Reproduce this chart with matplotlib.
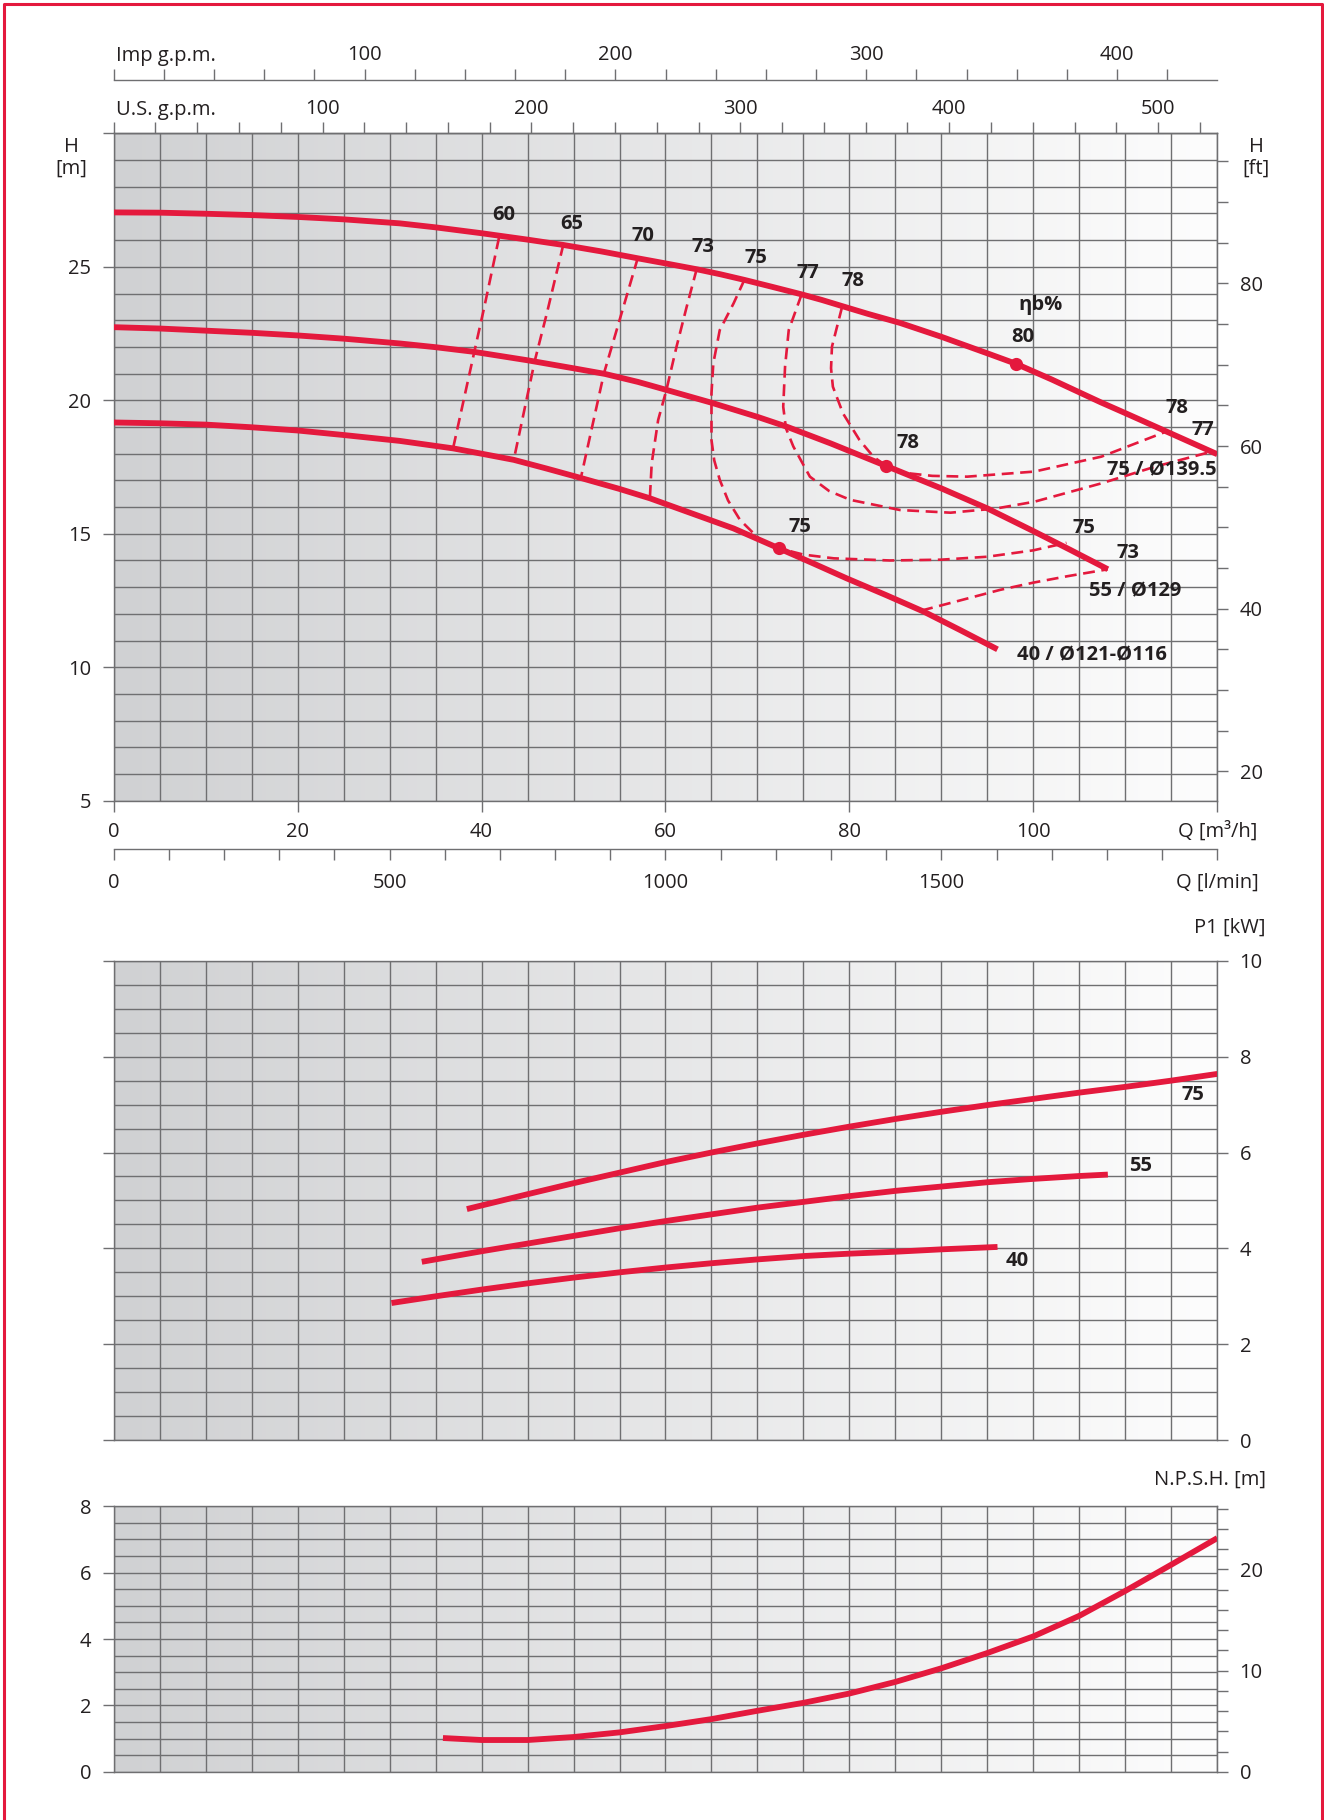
import numpy as np
import matplotlib
matplotlib.use("Agg")
import matplotlib.pyplot as plt
from matplotlib.colors import LinearSegmentedColormap
from matplotlib.lines import Line2D
from matplotlib.ticker import MultipleLocator

plt.rcParams['font.family'] = ['Open Sans', 'DejaVu Sans']

RED = '#e4193d'
GRID = '#6f6f71'
TXT = '#231f20'

# ---------------- data ----------------
# H-Q curves (Q in m3/h, H in m)
q_d139 = [0, 5, 10, 15, 20, 25, 31.1, 35, 40, 45, 48.9, 53, 57, 60, 63.4, 66, 68.6, 71.5, 74.8,
          77, 79.2, 82, 85.5, 90, 95, 98.1, 102, 107.3, 110, 115, 120]
h_d139 = [27.04, 27.03, 26.99, 26.94, 26.87, 26.78, 26.63, 26.48, 26.26, 26.02, 25.82, 25.58, 25.32,
          25.13, 24.91, 24.72, 24.51, 24.26, 23.97, 23.76, 23.53, 23.24, 22.9, 22.38, 21.76, 21.37,
          20.78, 19.93, 19.52, 18.75, 17.98]

q_d129 = [0, 5, 10, 15, 20, 25, 31.1, 35, 39.1, 45, 50, 53.4, 57, 60.1, 65, 70, 73.2, 78, 84.0,
          90, 95.0, 100, 104, 108.1]
h_d129 = [22.74, 22.69, 22.61, 22.53, 22.43, 22.31, 22.13, 21.99, 21.82, 21.5, 21.2, 20.99, 20.69,
          20.39, 19.91, 19.38, 19.01, 18.38, 17.54, 16.7, 15.95, 15.1, 14.4, 13.67]

q_d121 = [0, 5, 10, 15, 20, 25, 31.1, 36.9, 40, 43.5, 47, 50.7, 55, 58.3, 62, 67.4, 72.3, 76,
          79.7, 84, 88.1, 92, 96.1]
h_d121 = [19.17, 19.14, 19.09, 18.99, 18.87, 18.7, 18.48, 18.2, 18.0, 17.77, 17.45, 17.1, 16.68,
          16.33, 15.87, 15.2, 14.46, 13.9, 13.33, 12.7, 12.08, 11.4, 10.67]

# best efficiency points
bep_q = [98.1, 84.0, 72.3]
bep_h = [21.37, 17.54, 14.46]
bep_lbl = ['80', '78', '75']

# iso-efficiency lines
eta60_q = [41.9, 40.3, 39.2, 36.9]
eta60_h = [26.1, 23.5, 21.8, 18.2]
eta65_q = [48.9, 47.1, 45.8, 43.5]
eta65_h = [25.85, 23.26, 21.5, 17.77]
eta70_q = [57.0, 55.0, 53.3, 50.8]
eta70_h = [25.35, 23.0, 21.0, 17.1]
eta73_q = [63.4, 62.3, 61.2, 60.1, 59.2, 58.5, 58.3]
eta73_h = [24.93, 23.5, 22.01, 20.39, 19.26, 17.64, 16.33]
eta73b_q = [87.8, 92.0, 96.4, 100.0, 103.7, 108.1]
eta73b_h = [12.12, 12.5, 12.9, 13.17, 13.41, 13.67]
eta75_q = [68.6, 67.4, 65.9, 65.2, 65.0, 65.0, 65.3, 65.9, 66.8, 68.1, 70.3, 72.3, 75.0, 78.3,
           84.4, 90.0, 95.0, 100.0, 103.6]
eta75_h = [24.53, 23.63, 22.63, 21.39, 20.26, 18.51, 17.75, 17.02, 16.25, 15.52, 14.77, 14.46,
           14.22, 14.08, 14.0, 14.03, 14.14, 14.38, 14.66]
eta77_q = [74.8, 73.4, 73.0, 72.8, 73.1, 73.9, 75.7, 77.8, 80.1, 85.5, 91.0, 96.0, 100.1, 107.4,
           113.2, 119.4]
eta77_h = [23.97, 22.63, 21.26, 19.76, 18.95, 18.27, 17.14, 16.6, 16.27, 15.89, 15.79, 15.95,
           16.2, 16.89, 17.51, 18.08]
eta78_q = [79.2, 78.1, 78.0, 78.2, 79.3, 81.1, 82.6, 84.0, 86.3, 89.0, 92.8, 100.1, 107.4, 114.6]
eta78_h = [23.5, 22.01, 21.2, 20.51, 19.51, 18.51, 17.89, 17.54, 17.27, 17.17, 17.14, 17.33,
           17.89, 18.85]

# power input P1 (kW)
q_p75 = [38.4, 45, 50, 55, 60, 65, 70, 75, 80, 85, 90, 95, 100, 105, 110, 115, 120]
p_p75 = [4.82, 5.13, 5.36, 5.58, 5.80, 6.00, 6.19, 6.37, 6.54, 6.70, 6.85, 6.99, 7.12, 7.25,
         7.37, 7.5, 7.64]
q_p55 = [33.5, 40, 45, 50, 55, 60, 65, 70, 75, 80, 85, 90, 95, 100, 105, 108.1]
p_p55 = [3.72, 3.94, 4.10, 4.26, 4.42, 4.57, 4.71, 4.85, 4.97, 5.09, 5.20, 5.29, 5.38, 5.45,
         5.51, 5.54]
q_p40 = [30.2, 35, 40, 45, 50, 55, 60, 65, 70, 75, 80, 85, 90, 96.1]
p_p40 = [2.86, 3.0, 3.14, 3.27, 3.39, 3.50, 3.60, 3.69, 3.77, 3.84, 3.89, 3.93, 3.98, 4.03]

# NPSH (m)
q_npsh = [35.8, 40, 45, 50, 55, 60, 65, 70, 75, 80, 85, 90, 95, 100, 105, 110, 115, 120]
n_npsh = [1.02, 0.96, 0.96, 1.05, 1.19, 1.38, 1.59, 1.84, 2.08, 2.36, 2.71, 3.12, 3.58, 4.08,
          4.70, 5.45, 6.24, 7.04]

# tick labels
q_ticks = [0, 20, 40, 60, 80, 100, 120]
q_ticklabels = ['0', '20', '40', '60', '80', '100', 'Q [m³/h]']
lmin_ticks = list(range(0, 2001, 100))
lmin_ticklabels = [('Q [l/min]' if v == 2000 else str(v)) if v % 500 == 0 else '' for v in lmin_ticks]
us_ticks = list(range(0, 521, 20))
us_ticklabels = [str(v) if (v % 100 == 0 and v > 0) else '' for v in us_ticks]
imp_ticks = list(range(0, 441, 20))
imp_ticklabels = [str(v) if (v % 100 == 0 and v > 0) else '' for v in imp_ticks]

US_GPM = 4.40287
IMP_GPM = 3.66615
FT = 3.28084

# ---------------- figure ----------------
W_PX, H_PX = 1324, 1820
fig = plt.figure(figsize=(W_PX / 100, H_PX / 100), dpi=100)


def fx(px):
    return px / W_PX


def fy(py):
    return 1 - py / H_PX


LEFT, RIGHT = 113.7, 1217.3


def add_panel(top, bottom):
    return fig.add_axes([fx(LEFT), fy(bottom), (RIGHT - LEFT) / W_PX, (bottom - top) / H_PX])


ax_h = add_panel(133.4, 800.7)
ax_p = add_panel(960.8, 1440.1)
ax_n = add_panel(1506.2, 1771.9)

bg_cmap = LinearSegmentedColormap.from_list('bg', ['#d0d1d3', '#fdfdfd'])
TICK_KW = dict(length=8, width=1.0, color=GRID, labelsize=14.5, labelcolor=TXT, direction='out')


def style_panel(ax, ylim, ymajor, yminor):
    ax.imshow(np.linspace(0, 1, 256)[None, :], cmap=bg_cmap,
              extent=[0, 120, ylim[0], ylim[1]], aspect='auto', zorder=0,
              interpolation='bilinear')
    ax.set_xlim(0, 120)
    ax.set_ylim(*ylim)
    ax.xaxis.set_minor_locator(MultipleLocator(5))
    ax.yaxis.set_major_locator(MultipleLocator(ymajor))
    ax.yaxis.set_minor_locator(MultipleLocator(yminor))
    ax.grid(True, which='both', color=GRID, lw=1.0)
    ax.set_axisbelow(True)
    ax.tick_params(which='minor', length=0)
    ax.tick_params(which='major', **TICK_KW)
    ax.tick_params(axis='y', pad=8)
    for s in ax.spines.values():
        s.set_color(GRID)
        s.set_linewidth(1.0)


def right_axis(ax, lim, ticks, labels):
    axr = ax.twinx()
    axr.set_ylim(*lim)
    axr.set_yticks(ticks, labels=labels)
    axr.tick_params(axis='y', **TICK_KW)
    axr.tick_params(axis='y', pad=8)
    for name, s in axr.spines.items():
        s.set_visible(name == 'right')
        s.set_color(GRID)
    return axr


# ---- H-Q panel ----
style_panel(ax_h, (5, 30), 5, 1)
ax_h.set_xticks(q_ticks, labels=q_ticklabels)
ax_h.set_yticks(np.arange(5, 31, 5), labels=['5', '10', '15', '20', '25', ''])
ax_h.tick_params(axis='x', pad=7)

ft_ticks = list(range(20, 96, 5))
right_axis(ax_h, (5 * FT, 30 * FT), ft_ticks, [str(v) if v % 20 == 0 else '' for v in ft_ticks])

sec_us = ax_h.secondary_xaxis('top', functions=(lambda q: q * US_GPM, lambda g: g / US_GPM))
sec_imp = ax_h.secondary_xaxis(1.080, functions=(lambda q: q * IMP_GPM, lambda g: g / IMP_GPM))
sec_lm = ax_h.secondary_xaxis(-0.0728, functions=(lambda q: q * 1000 / 60, lambda v: v * 60 / 1000))
for sec, ticks, labels, pad in ((sec_us, us_ticks, us_ticklabels, 2.5),
                                (sec_imp, imp_ticks, imp_ticklabels, 2.5),
                                (sec_lm, lmin_ticks, lmin_ticklabels, 9)):
    sec.set_xticks(ticks, labels=labels)
    sec.tick_params(**TICK_KW)
    sec.tick_params(pad=pad)
    for s in sec.spines.values():
        s.set_color(GRID)
        s.set_linewidth(1.0)

LINE_KW = dict(color=RED, lw=4.2, solid_capstyle='butt', solid_joinstyle='round', zorder=4)
DASH_KW = dict(color=RED, lw=1.9, ls=(0, (4.5, 2.5)), zorder=3)

for q, h in ((q_d139, h_d139), (q_d129, h_d129), (q_d121, h_d121)):
    ax_h.plot(q, h, **LINE_KW)

for q, h in ((eta60_q, eta60_h), (eta65_q, eta65_h), (eta70_q, eta70_h),
             (eta73_q, eta73_h), (eta73b_q, eta73b_h), (eta75_q, eta75_h),
             (eta77_q, eta77_h), (eta78_q, eta78_h)):
    ax_h.plot(q, h, **DASH_KW)

ax_h.plot(bep_q, bep_h, 'o', ms=9.5, color=RED, mec='none', zorder=5)

LBL_KW = dict(fontsize=14.5, fontweight='bold', color=TXT, ha='center', va='center', zorder=6)
iso_labels = [
    (42.4, 26.96, '60'), (49.8, 26.61, '65'), (57.5, 26.17, '70'), (64.1, 25.74, '73'),
    (69.8, 25.35, '75'), (75.5, 24.78, '77'), (80.4, 24.48, '78'),
    (115.6, 19.70, '78'), (118.4, 18.89, '77'), (105.5, 15.20, '75'), (110.3, 14.27, '73'),
]
for x, y, t in iso_labels:
    ax_h.text(x, y, t, **LBL_KW)
bep_lbl_pos = [(98.8, 22.39), (86.4, 18.39), (74.6, 15.26)]
for (x, y), t in zip(bep_lbl_pos, bep_lbl):
    ax_h.text(x, y, t, **LBL_KW)
ax_h.text(100.8, 23.57, 'ηb%', **LBL_KW)
ax_h.text(119.9, 17.37, '75 / Ø139.5', **{**LBL_KW, 'ha': 'right'})
ax_h.text(106.1, 12.83, '55 / Ø129', **{**LBL_KW, 'ha': 'left'})
ax_h.text(98.2, 10.46, '40 / Ø121-Ø116', **{**LBL_KW, 'ha': 'left'})

# ---- P1 panel ----
style_panel(ax_p, (0, 10), 2, 0.5)
ax_p.tick_params(axis='x', which='both', length=0, labelbottom=False)
ax_p.tick_params(axis='y', left=True, right=True, labelleft=False, labelright=True)
for q, p in ((q_p75, p_p75), (q_p55, p_p55), (q_p40, p_p40)):
    ax_p.plot(q, p, **LINE_KW)
ax_p.text(117.4, 7.20, '75', **LBL_KW)
ax_p.text(111.7, 5.71, '55', **LBL_KW)
ax_p.text(98.2, 3.74, '40', **LBL_KW)

# ---- NPSH panel ----
style_panel(ax_n, (0, 8), 2, 0.5)
ax_n.tick_params(axis='x', which='both', length=0, labelbottom=False)
npsh_ft_ticks = list(range(0, 27, 2))
right_axis(ax_n, (0, 8 * FT), npsh_ft_ticks, [str(v) if v % 10 == 0 else '' for v in npsh_ft_ticks])
ax_n.plot(q_npsh, n_npsh, **LINE_KW)

# ---- axis titles ----
TXT_KW = dict(fontsize=14.5, color=TXT)
fig.text(fx(71), fy(152), 'H', ha='center', va='baseline', **TXT_KW)
fig.text(fx(71), fy(174), '[m]', ha='center', va='baseline', **TXT_KW)
fig.text(fx(1256), fy(152), 'H', ha='center', va='baseline', **TXT_KW)
fig.text(fx(1256), fy(174), '[ft]', ha='center', va='baseline', **TXT_KW)
fig.text(fx(116), fy(61), 'Imp g.p.m.', ha='left', va='baseline', **TXT_KW)
fig.text(fx(116), fy(115), 'U.S. g.p.m.', ha='left', va='baseline', **TXT_KW)
fig.text(fx(1266), fy(933), 'P1 [kW]', ha='right', va='baseline', **TXT_KW)
fig.text(fx(1266), fy(1485), 'N.P.S.H. [m]', ha='right', va='baseline', **TXT_KW)

# ---- red frame ----
fig.add_artist(Line2D([fx(3.5), fx(3.5), fx(1321.5), fx(1321.5)],
                      [fy(H_PX), fy(3.5), fy(3.5), fy(H_PX)],
                      transform=fig.transFigure, color=RED, lw=2.2))

fig.savefig('out.png', dpi=100)
